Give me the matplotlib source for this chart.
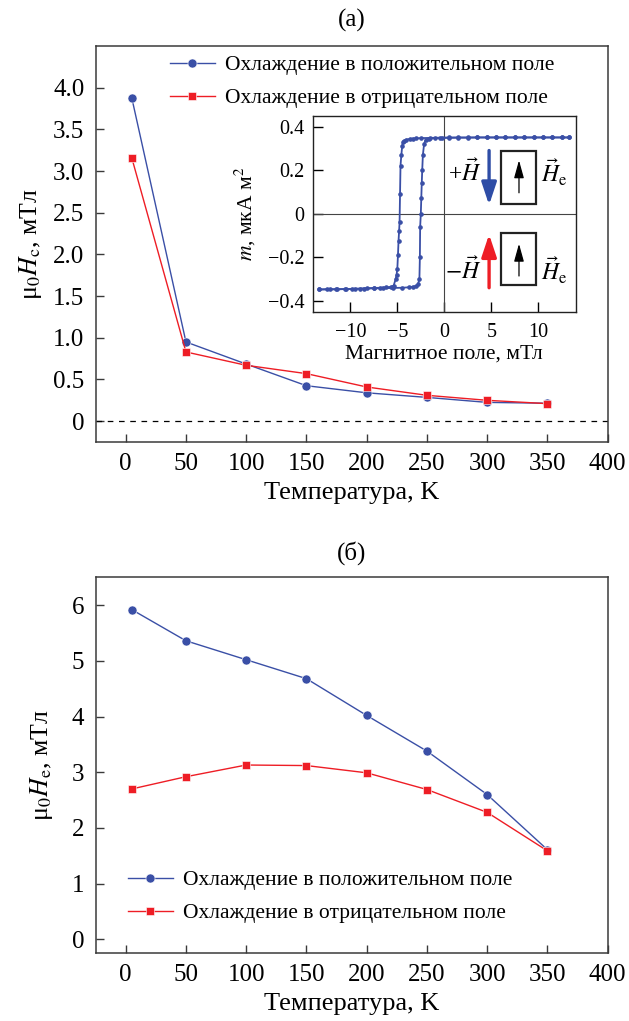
import matplotlib
matplotlib.use("Agg")
import matplotlib.pyplot as plt
from matplotlib.patches import Rectangle

plt.rcParams['font.family'] = ['Liberation Serif', 'DejaVu Serif']
plt.rcParams['mathtext.fontset'] = 'stix'

# Data ######################################################################
temperature = [5, 50, 100, 150, 200, 250, 300, 350]

# (a) coercive field, mT
hc_positive = [3.88, 0.95, 0.685, 0.425, 0.34, 0.285, 0.225, 0.215]
hc_negative = [3.16, 0.83, 0.67, 0.57, 0.41, 0.31, 0.25, 0.21]

# (б) exchange bias field, mT
he_positive = [5.92, 5.36, 5.02, 4.68, 4.02, 3.38, 2.60, 1.61]
he_negative = [2.70, 2.92, 3.13, 3.12, 2.99, 2.69, 2.28, 1.59]

label_pos = "Охлаждение в положительном поле"
label_neg = "Охлаждение в отрицательном поле"

# inset: hysteresis loop, field (mT) vs moment (uA m^2)
loop_down_h = [13.3, 12.5, 11.5, 10.5, 9.5, 8.5, 7.5, 6.5, 5.5, 4.5, 3.5, 2.5, 1.5, 0.5, -0.5, -1.5,
               -2.5, -3, -3.35, -3.7, -4.06, -4.25, -4.41, -4.48, -4.57, -4.66, -4.71, -4.76, -4.81,
               -4.87, -4.93, -5.0, -5.08, -5.17, -5.39, -5.7, -6.2, -6.8, -7.5, -8.2, -9, -9.8,
               -10.6, -11.4, -12.2, -13.3]
loop_down_m = [0.35, 0.35, 0.35, 0.35, 0.35, 0.35, 0.35, 0.35, 0.35, 0.35, 0.35, 0.35, 0.35, 0.35, 0.349, 0.348,
               0.347, 0.346, 0.345, 0.343, 0.34, 0.336, 0.33, 0.31, 0.27, 0.22, 0.09, -0.04, -0.08,
               -0.125, -0.19, -0.255, -0.28, -0.30, -0.33, -0.336, -0.338, -0.34, -0.341, -0.342, -0.344, -0.345,
               -0.346, -0.347, -0.347, -0.348]
loop_up_h = [-13.3, -12.5, -11.5, -10.5, -9.5, -8.5, -7.5, -6.5, -5.5, -4.5, -3.8, -3.3, -3.0, -2.8,
             -2.65, -2.6, -2.57, -2.5, -2.45, -2.4, -2.35, -2.28, -2.15, -2.0, -1.6, -1, -0.3, 0.5, 1.5,
             2.5, 3.5, 4.5, 5.5, 6.5, 7.5, 8.5, 9.5, 10.5, 11.5, 12.5, 13.3]
loop_up_m = [-0.348, -0.347, -0.347, -0.346, -0.345, -0.344, -0.343, -0.342, -0.341, -0.34, -0.338, -0.335, -0.332, -0.325,
             -0.30, -0.2, -0.06, 0.0, 0.07, 0.14, 0.2, 0.27, 0.32, 0.338, 0.345, 0.347, 0.348, 0.348, 0.349,
             0.349, 0.35, 0.35, 0.35, 0.35, 0.35, 0.35, 0.35, 0.35, 0.35, 0.35, 0.35]

x_ticks = [0, 50, 100, 150, 200, 250, 300, 350, 400]
hc_ticks = [0, 0.5, 1.0, 1.5, 2.0, 2.5, 3.0, 3.5, 4.0]
hc_ticklabels = ['0', '0.5', '1.0', '1.5', '2.0', '2.5', '3.0', '3.5', '4.0']
he_ticks = [0, 1, 2, 3, 4, 5, 6]
inset_xticks = [-10, -5, 0, 5, 10]
inset_xticklabels = ['\u221210', '\u22125', '0', '5', '10']
inset_yticks = [-0.4, -0.2, 0, 0.2, 0.4]
inset_yticklabels = ['\u22120.4', '\u22120.2', '0', '0.2', '0.4']

blue = '#3a4fa6'
red = '#ee1d25'
frame = '#3a3a3a'


def style_axes(ax, lw=1.1, length=6):
    for s in ax.spines.values():
        s.set_color(frame)
        s.set_linewidth(lw)
    ax.tick_params(direction='in', length=length, width=1.0, color=frame,
                   top=False, right=False, labelsize=18, pad=8)


fig = plt.figure(figsize=(6.29, 10.21), dpi=100)

# (a) ######################################################################
ax1 = fig.add_axes([0.152, 0.5671, 0.814, 0.3878])
ax1.axhline(0, color='k', lw=0.9, ls=(0, (4.5, 4.5)))
ax1.plot(temperature, hc_positive, '-o', color=blue, lw=1.0, ms=6.5, mec='white', mew=0.4, label=label_pos)
ax1.plot(temperature, hc_negative, '-s', color=red, lw=1.0, ms=6, mec='white', mew=0.4, label=label_neg)
ax1.set_xlim(-25, 400)
ax1.set_ylim(-0.25, 4.5)
ax1.set_xticks(x_ticks)
ax1.set_yticks(hc_ticks)
ax1.set_yticklabels(hc_ticklabels)
style_axes(ax1)
ax1.set_xlabel("Температура, K", fontsize=19, labelpad=5)
ax1.set_ylabel("μ$_0$$H_\\mathrm{c}$, мТл", fontsize=18.5, labelpad=7)
ax1.set_title("(a)", fontsize=18, pad=14)
ax1.legend(loc='center left', bbox_to_anchor=(0.145, 0.91), frameon=False, fontsize=15.5,
           handlelength=2.1, handletextpad=0.45, labelspacing=0.6, borderpad=0, borderaxespad=0)

# inset ####################################################################
axin = fig.add_axes([0.4971, 0.6947, 0.4186, 0.192])
axin.axhline(0, color='#444444', lw=0.8)
axin.axvline(0, color='#444444', lw=0.8)
axin.plot(loop_down_h, loop_down_m, '-o', color=blue, lw=1.3, ms=2.3)
axin.plot(loop_up_h, loop_up_m, '-o', color=blue, lw=1.3, ms=2.3)
axin.set_xlim(-14, 14)
axin.set_ylim(-0.45, 0.45)
axin.set_xticks(inset_xticks)
axin.set_xticklabels(inset_xticklabels)
axin.set_yticks(inset_yticks)
axin.set_yticklabels(inset_yticklabels)
for s in axin.spines.values():
    s.set_color('#222222')
    s.set_linewidth(1.0)
axin.tick_params(direction='in', length=7.5, width=1.0, top=False, right=False, labelsize=14.5, pad=6)
axin.tick_params(axis='x', pad=8)
axin.set_xlabel("Магнитное поле, мТл", fontsize=15.5, labelpad=2)
axin.set_ylabel("$m$, мкА м$^2$", fontsize=15.5, labelpad=7)

# field sketches inside the inset
axin.annotate('', xy=(4.76, 0.04), xytext=(4.76, 0.29),
              arrowprops=dict(arrowstyle='-|>,head_length=0.9,head_width=0.3', lw=2.4,
                              color='#2e4da6', mutation_scale=15, shrinkA=0, shrinkB=0))
axin.annotate('', xy=(4.76, -0.095), xytext=(4.76, -0.34),
              arrowprops=dict(arrowstyle='-|>,head_length=0.9,head_width=0.3', lw=2.4,
                              color=red, mutation_scale=15, shrinkA=0, shrinkB=0))
for y0 in [0.046, -0.328]:
    axin.add_patch(Rectangle((6.06, y0), 3.74, 0.241, fill=False, lw=1.6, ec='#222222'))
axin.annotate('', xy=(7.94, 0.245), xytext=(7.94, 0.096),
              arrowprops=dict(arrowstyle='-|>,head_length=0.9,head_width=0.25', lw=0.9,
                              color='k', mutation_scale=12, shrinkA=0, shrinkB=0))
axin.annotate('', xy=(7.94, -0.138), xytext=(7.94, -0.286),
              arrowprops=dict(arrowstyle='-|>,head_length=0.9,head_width=0.25', lw=0.9,
                              color='k', mutation_scale=12, shrinkA=0, shrinkB=0))
axin.text(3.9, 0.19, "+$\\vec{H}$", ha='right', va='center', fontsize=17)
axin.text(10.3, 0.19, "$\\vec{H}_\\mathrm{e}$", ha='left', va='center', fontsize=17)
axin.text(3.9, -0.26, "$-\\vec{H}$", ha='right', va='center', fontsize=17)
axin.text(10.3, -0.26, "$\\vec{H}_\\mathrm{e}$", ha='left', va='center', fontsize=17)

# (б) ######################################################################
ax2 = fig.add_axes([0.152, 0.0663, 0.814, 0.3683])
ax2.plot(temperature, he_positive, '-o', color=blue, lw=1.0, ms=6.5, mec='white', mew=0.4, label=label_pos)
ax2.plot(temperature, he_negative, '-s', color=red, lw=1.0, ms=6, mec='white', mew=0.4, label=label_neg)
ax2.set_xlim(-25, 400)
ax2.set_ylim(-0.25, 6.5)
ax2.set_xticks(x_ticks)
ax2.set_yticks(he_ticks)
style_axes(ax2)
ax2.set_xlabel("Температура, K", fontsize=19, labelpad=5)
ax2.set_ylabel("μ$_0$$H_\\mathrm{e}$, мТл", fontsize=18.5, labelpad=12)
ax2.set_title("(б)", fontsize=18, pad=13)
ax2.legend(loc='center left', bbox_to_anchor=(0.063, 0.15), frameon=False, fontsize=15.5,
           handlelength=2.1, handletextpad=0.45, labelspacing=0.6, borderpad=0, borderaxespad=0)

fig.savefig("out.png", dpi=100)
